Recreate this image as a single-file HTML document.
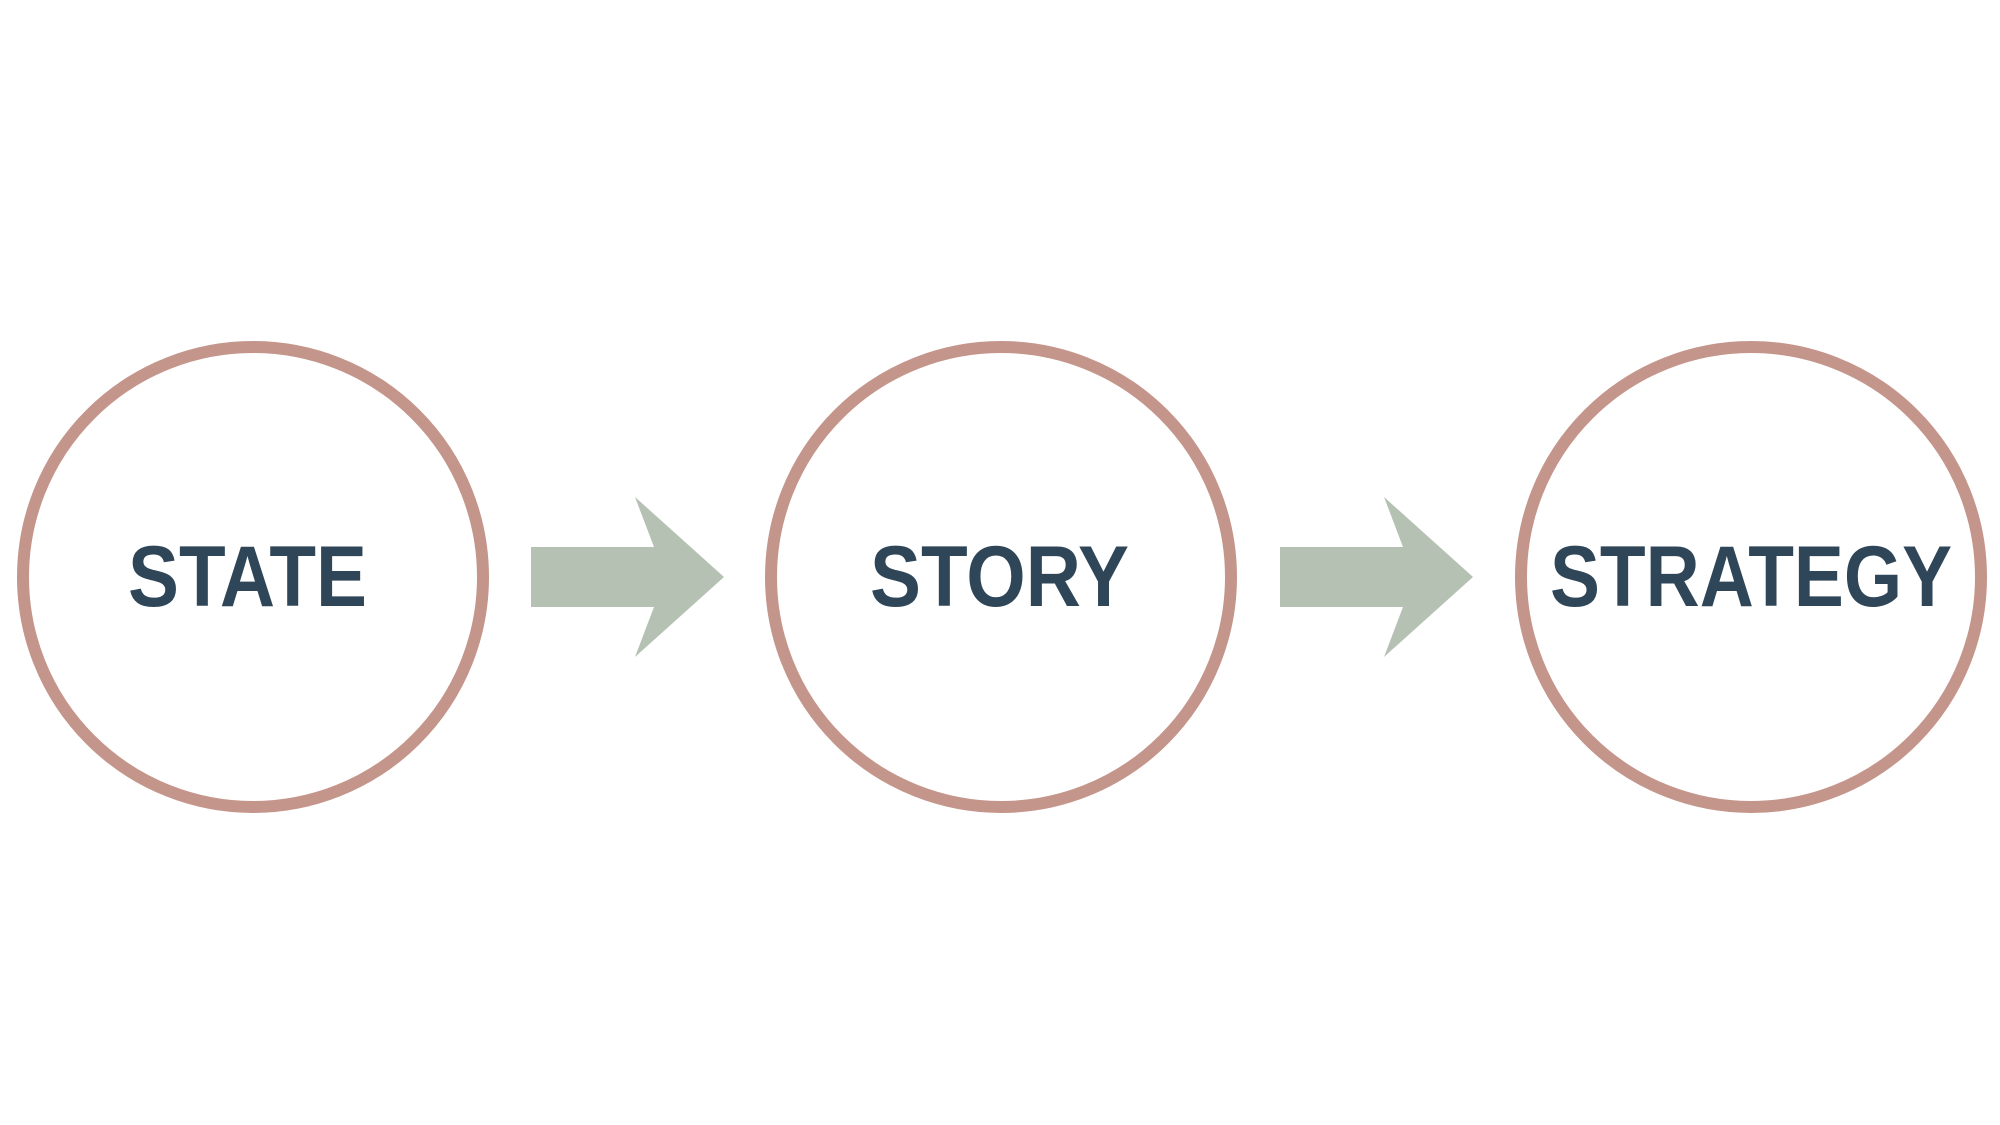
<!DOCTYPE html>
<html><head><style>html,body{margin:0;padding:0;background:#fff}svg{display:block}</style></head>
<body>
<svg width="2000" height="1125" viewBox="0 0 2000 1125" xmlns="http://www.w3.org/2000/svg">
<rect width="2000" height="1125" fill="#fff"/>
<g fill="none" stroke="#c4958a" stroke-width="12">
<circle cx="253" cy="577" r="230"/>
<circle cx="1001" cy="577" r="230"/>
<circle cx="1751" cy="577" r="230"/>
</g>
<g fill="#b5c2b3">
<polygon points="531,547 654,547 635,497 724,577 635,657 654,607 531,607"/>
<polygon points="1280,547 1403,547 1384,497 1473,577 1384,657 1403,607 1280,607"/>
</g>
<g fill="#2f4659" font-family="Liberation Sans, sans-serif" font-weight="bold" font-size="86">
<text x="128" y="606" textLength="239" lengthAdjust="spacingAndGlyphs">STATE</text>
<text x="870" y="606" textLength="259" lengthAdjust="spacingAndGlyphs">STORY</text>
<text x="1550" y="606" textLength="402" lengthAdjust="spacingAndGlyphs">STRATEGY</text>
</g>
</svg>
</body></html>
